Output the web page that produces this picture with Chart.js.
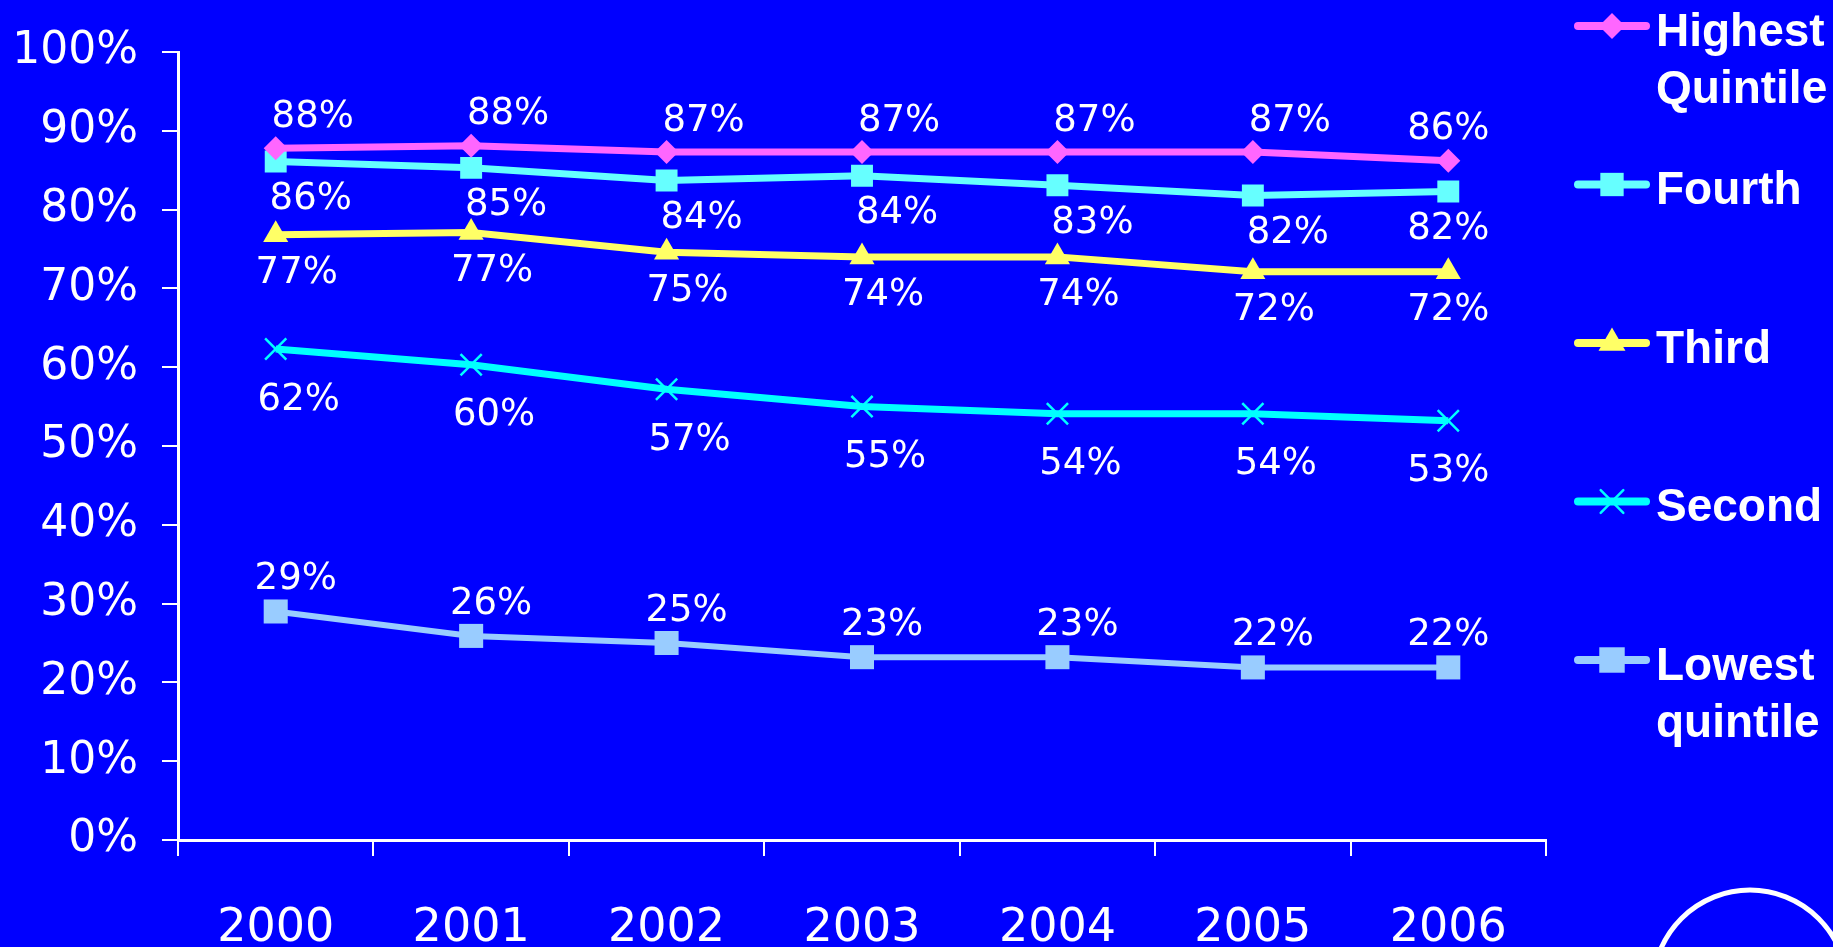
<!DOCTYPE html>
<html>
<head>
<meta charset="utf-8">
<script src="https://cdn.jsdelivr.net/npm/chart.js@4.4.1/dist/chart.umd.min.js"></script>
<style>
  html, body { margin: 0; padding: 0; background: #0000ff; }
  #wrap { position: relative; width: 1833px; height: 947px; }
</style>
</head>
<body>
<div id="wrap"><canvas id="chart"></canvas></div>
<script>
const years = ["2000", "2001", "2002", "2003", "2004", "2005", "2006"];
const highest = [87.8, 88.1, 87.3, 87.3, 87.3, 87.3, 86.2];
const fourth = [86.1, 85.3, 83.7, 84.3, 83.1, 81.8, 82.3];
const third = [76.8, 77.1, 74.6, 74.0, 74.0, 72.1, 72.1];
const second = [62.3, 60.3, 57.2, 55.0, 54.1, 54.1, 53.2];
const lowest = [29.0, 25.9, 25.0, 23.2, 23.2, 21.9, 21.9];
const seriesNames = [["Highest", "Quintile"], ["Fourth"], ["Third"], ["Second"], ["Lowest", "quintile"]];

const WHITE = "#ffffff";
const labelFont = "37px 'DejaVu Sans'";

function mkSet(name, data, color, style, radius, lw, lbl) {
    return {
        label: name.join(" "),
        data: data,
        borderColor: color,
        backgroundColor: color,
        borderWidth: lw,
        pointStyle: style,
        pointRadius: radius,
        pointHoverRadius: radius,
        pointBorderWidth: style === "crossRot" ? 2.5 : 0,
        pointBorderColor: color,
        tension: 0,
        lbl: lbl
    };
}

const datasets = [
    mkSet(seriesNames[0], highest, "#ff66ff", "rectRot", 12, 7, { dx: 37, dy: -31 }),
    mkSet(seriesNames[1], fourth, "#66ffff", "rect", 15.5, 7, { dx: 35, dy: 38 }),
    mkSet(seriesNames[2], third, "#ffff66", "triangle", 14.5, 7, { dx: 21, dy: 39 }),
    mkSet(seriesNames[3], second, "#00ffff", "crossRot", 15, 7, { dx: 23, dy: 51 }),
    mkSet(seriesNames[4], lowest, "#99ccff", "rect", 17, 6, { dx: 20, dy: -32 })
];

function marker(ctx, style, x, y, r, color) {
    ctx.save();
    ctx.fillStyle = color;
    ctx.strokeStyle = color;
    ctx.beginPath();
    if (style === "rectRot") {
        ctx.moveTo(x, y - r); ctx.lineTo(x + r, y); ctx.lineTo(x, y + r); ctx.lineTo(x - r, y);
        ctx.closePath(); ctx.fill();
    } else if (style === "rect") {
        const s = Math.SQRT1_2 * r;
        ctx.rect(x - s, y - s, 2 * s, 2 * s); ctx.fill();
    } else if (style === "triangle") {
        ctx.moveTo(x, y - r);
        ctx.lineTo(x + r * Math.sin(2 * Math.PI / 3), y - r * Math.cos(2 * Math.PI / 3));
        ctx.lineTo(x + r * Math.sin(4 * Math.PI / 3), y - r * Math.cos(4 * Math.PI / 3));
        ctx.closePath(); ctx.fill();
    } else if (style === "crossRot") {
        const s = Math.SQRT1_2 * r;
        ctx.lineWidth = 2.5;
        ctx.moveTo(x - s, y - s); ctx.lineTo(x + s, y + s);
        ctx.moveTo(x - s, y + s); ctx.lineTo(x + s, y - s);
        ctx.stroke();
    }
    ctx.restore();
}

const valueLabels = {
    id: "valueLabels",
    afterDatasetsDraw(chart) {
        const ctx = chart.ctx;
        ctx.save();
        ctx.font = labelFont;
        ctx.fillStyle = WHITE;
        ctx.textAlign = "center";
        ctx.textBaseline = "middle";
        chart.data.datasets.forEach((ds, di) => {
            const meta = chart.getDatasetMeta(di);
            meta.data.forEach((pt, i) => {
                const last = i === meta.data.length - 1;
                const dx = last ? 0 : ds.lbl.dx;
                ctx.fillText(Math.round(ds.data[i]) + "%", pt.x + dx, pt.y + ds.lbl.dy);
            });
        });
        ctx.restore();
    }
};

const sideLegend = {
    id: "sideLegend",
    afterDraw(chart) {
        const ctx = chart.ctx;
        ctx.save();
        chart.data.datasets.forEach((ds, i) => {
            const y = 26 + i * 158.5;
            ctx.strokeStyle = ds.borderColor;
            ctx.lineWidth = 8;
            ctx.lineCap = "round";
            ctx.beginPath();
            ctx.moveTo(1578, y);
            ctx.lineTo(1646, y);
            ctx.stroke();
            marker(ctx, ds.pointStyle, 1612, y, ds.pointRadius + 1, ds.borderColor);
            ctx.fillStyle = WHITE;
            ctx.font = "bold 46px 'Liberation Sans'";
            ctx.textAlign = "left";
            ctx.textBaseline = "middle";
            seriesNames[i].forEach((t, k) => ctx.fillText(t, 1656, y + 7 + k * 57));
        });
        // ring in the lower right corner
        ctx.strokeStyle = WHITE;
        ctx.lineWidth = 5;
        ctx.beginPath();
        ctx.arc(1750, 987, 97, 0, Math.PI * 2);
        ctx.stroke();
        ctx.restore();
    }
};

new Chart(document.getElementById("chart"), {
    type: "line",
    data: { labels: years, datasets: datasets },
    options: {
        responsive: true,
        maintainAspectRatio: false,
        animation: false,
        layout: { padding: { top: 52, right: 287, bottom: 0, left: 0 } },
        plugins: { legend: { display: false }, tooltip: { enabled: false } },
        scales: {
            x: {
                offset: true,
                grid: { offset: true, drawOnChartArea: false, drawTicks: true, tickLength: 16, color: WHITE, lineWidth: 2 },
                border: { color: WHITE, width: 3 },
                ticks: { color: WHITE, font: { family: "DejaVu Sans", size: 46 }, padding: 45, maxRotation: 0 },
                afterFit(scale) { scale.height = 107; }
            },
            y: {
                min: 0,
                max: 100,
                ticks: { stepSize: 10, color: WHITE, font: { family: "DejaVu Sans", size: 44 }, padding: 24, callback: v => v + "%" },
                grid: { drawOnChartArea: false, drawTicks: true, tickLength: 16, color: WHITE, lineWidth: 2 },
                border: { color: WHITE, width: 3 },
                afterFit(scale) { scale.width = 178; }
            }
        }
    },
    plugins: [valueLabels, sideLegend]
});
</script>
</body>
</html>
